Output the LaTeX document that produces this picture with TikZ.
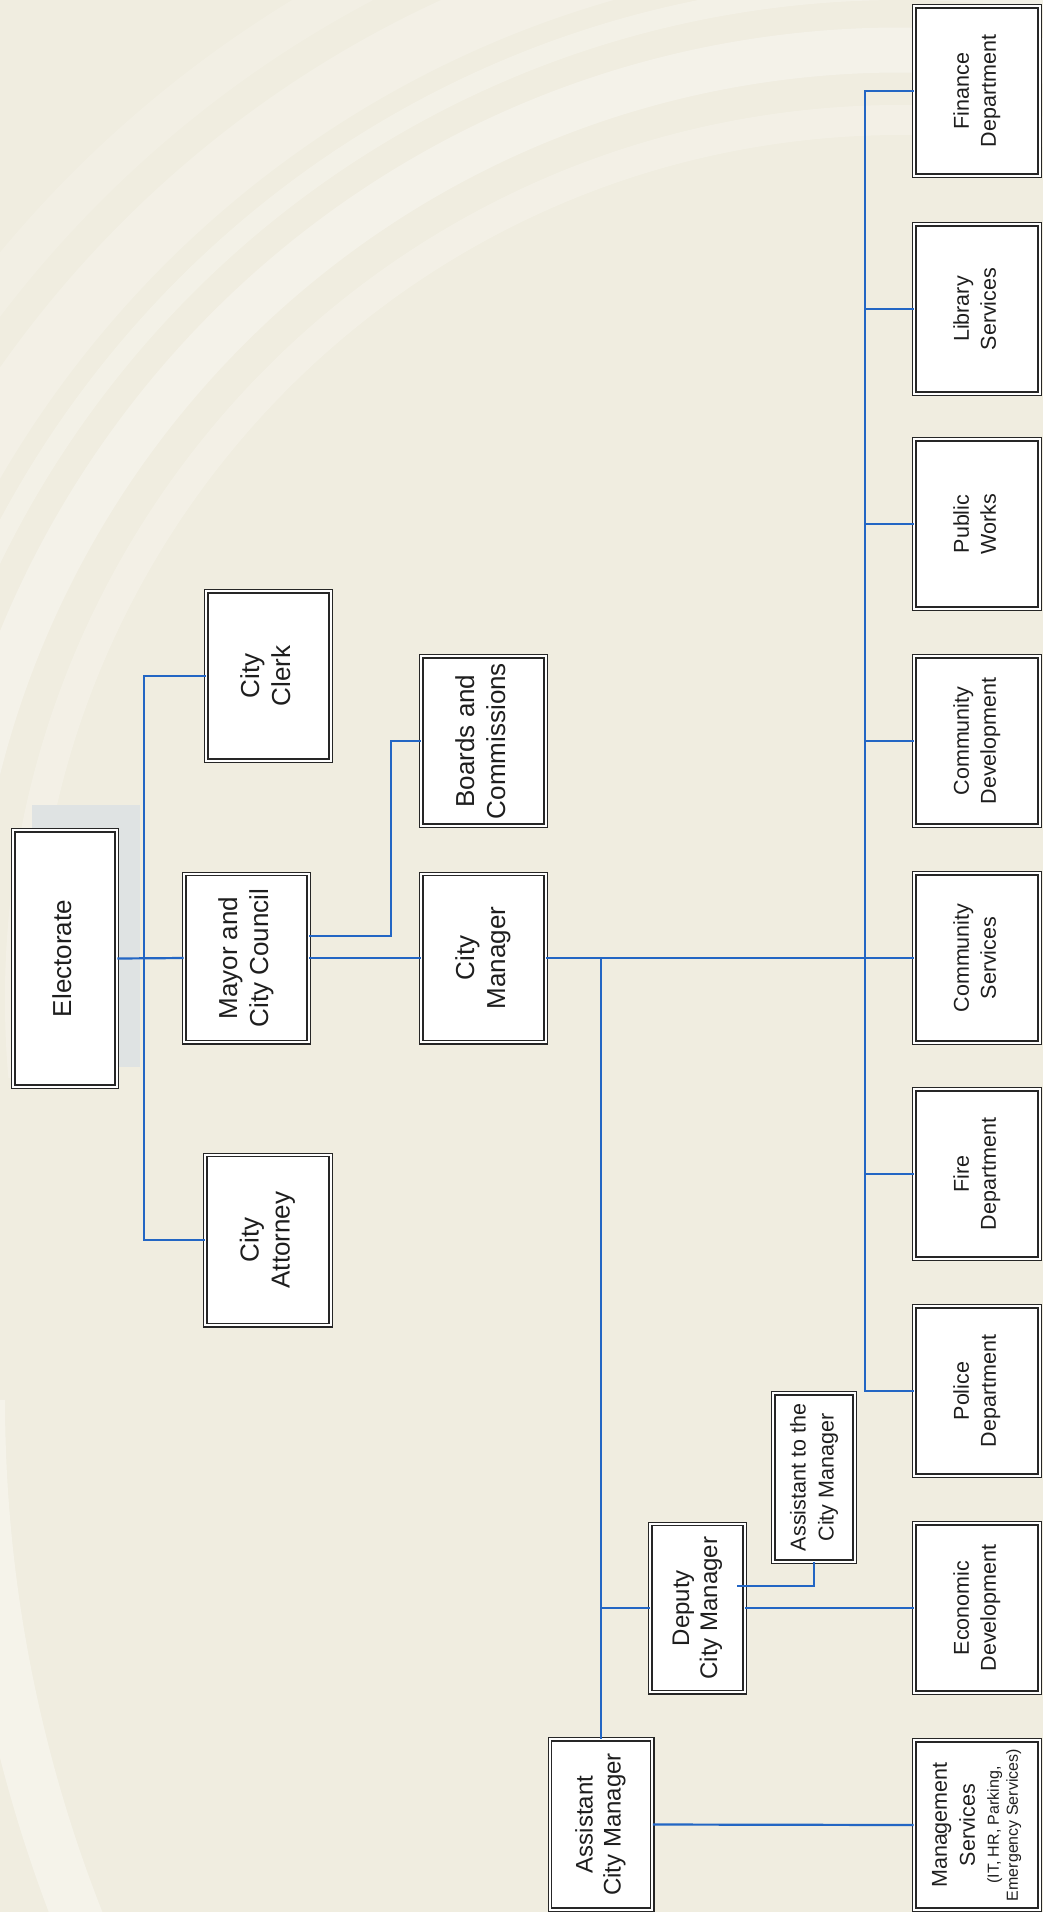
\documentclass[tikz,border=0pt]{standalone}
\usepackage{fontspec}
\setmainfont{Liberation Sans}
\usepackage{graphicx}
\definecolor{bgcream}{HTML}{F0EDE0}
\definecolor{conblue}{HTML}{2366C4}
\definecolor{boxline}{HTML}{262626}
\definecolor{txtc}{HTML}{1E1E1E}
\definecolor{shadebg}{HTML}{DFE3E3}
\newcommand\rtxt[3]{\rotatebox{90}{\fontsize{#1}{#2}\selectfont\begin{tabular}{@{}c@{}}#3\end{tabular}}}
\begin{document}
\begin{tikzpicture}[x=1pt,y=-1pt,
 obox/.style 2 args={draw=boxline, line width=1.2pt, double=white, double distance=2.2pt, fill=white, inner sep=0pt, minimum width=#1-4.6pt, minimum height=#2-4.6pt, text=txtc},
 conn/.style={draw=conblue, line width=2.2pt}]
\useasboundingbox (0,0) rectangle (1043,1912);
% background
\begin{scope}
\clip (0,0) rectangle (1043,1912);
\fill[bgcream] (0,0) rectangle (1043,1912);
\foreach \r/\w/\o in {880/30/.22, 950/45/.3, 1010/20/.25, 1070/60/.2, 1150/40/.15}
  \draw[white, line width=\w pt, opacity=\o] (900,1000) ++(175:\r) arc[start angle=175, end angle=300, radius=\r];
\draw[white, opacity=.35, line width=50pt] (1400,1400) ++(180:1420) arc[start angle=180, end angle=158, radius=1420];
\end{scope}
\fill[shadebg] (32,805) rectangle (140,1067);
% nodes
\node[obox={108}{261}] (elec) at (65,958.5) {\rtxt{26}{31}{Electorate}};
\node[obox={129}{173}] (mayor) at (246.5,958) {\rtxt{26}{31}{Mayor and\\City Council}};
\node[obox={129}{174}] (clerk) at (268.5,676) {\rtxt{26}{31}{City\\Clerk}};
\node[obox={130}{175}] (atty) at (268,1240) {\rtxt{26}{31}{City\\Attorney}};
\node[obox={129}{174}] (boards) at (483.5,741) {\rtxt{26}{31}{Boards and\\Commissions}};
\node[obox={129}{173}] (cm) at (483.5,958) {\rtxt{26}{31}{City\\Manager}};
\node[obox={107}{175}] (acm) at (601,1824.5) {\rtxt{24}{28}{Assistant\\City Manager}};
\node[obox={99}{173}] (dcm) at (697.5,1608) {\rtxt{24}{28}{Deputy\\City Manager}};
\node[obox={86}{173}] (ato) at (814,1477.5) {\rtxt{21.5}{28}{Assistant to the\\City Manager}};
\node[obox={130}{174}] (fin) at (977,91) {\rtxt{21.5}{27}{Finance\\Department}};
\node[obox={130}{174}] (lib) at (977,309) {\rtxt{21.5}{27}{Library\\Services}};
\node[obox={130}{174}] (pw) at (977,524) {\rtxt{21.5}{27}{Public\\Works}};
\node[obox={130}{174}] (cd) at (977,741) {\rtxt{21.5}{27}{Community\\Development}};
\node[obox={130}{174}] (cs) at (977,958) {\rtxt{21.5}{27}{Community\\Services}};
\node[obox={130}{174}] (fire) at (977,1174) {\rtxt{21.5}{27}{Fire\\Department}};
\node[obox={130}{174}] (pol) at (977,1391) {\rtxt{21.5}{27}{Police\\Department}};
\node[obox={130}{174}] (econ) at (977,1608) {\rtxt{21.5}{27}{Economic\\Development}};
\node[obox={130}{174}] (mgmt) at (977,1825) {\rtxt{21.5}{27}{Management\\[1pt]Services\\[-3pt]{\fontsize{16}{19}\selectfont (IT, HR, Parking,}\\[-8pt]{\fontsize{16}{19}\selectfont Emergency Services)}}};
% connectors
\coordinate (lj) at (144,958);
\coordinate (rj) at (865,958);
\coordinate (aj) at (601,958);
\draw[conn] (elec.east) -- (mayor.west);
\draw[conn] (clerk.west) -| (lj) |- (atty.west);
\draw[conn] (mayor.east) -- (cm.west);
\draw[conn] ([yshift=22pt]mayor.east) -- ++(82,0) |- (boards.west);
\draw[conn] (cm.east) -- (cs.west);
\draw[conn] (fin.west) -| (rj) |- (pol.west);
\foreach \n in {lib,pw,cd,fire} \draw[conn] (\n.west -| rj) -- (\n.west);
\draw[conn] (aj) -- (acm.north);
\draw[conn] (dcm.west -| aj) -- (dcm.west);
\draw[conn] (dcm.east) -- (econ.west);
\draw[conn] ([xshift=-8pt,yshift=22pt]dcm.east) -| (ato.south);
\draw[conn] (acm.east) -- (mgmt.west);
\end{tikzpicture}
\end{document}
